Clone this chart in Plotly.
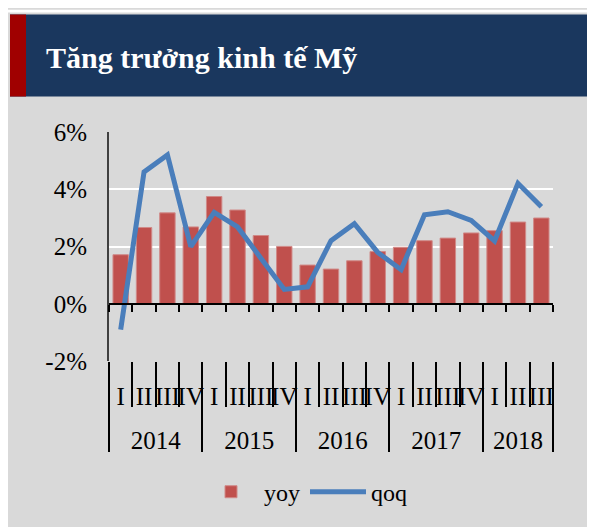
import plotly.graph_objects as go

# ---------------- data ----------------
title_text = "Tăng trưởng kinh tế Mỹ"
quarters = ["I", "II", "III", "IV"] * 4 + ["I", "II", "III"]
years = ["2014"] * 4 + ["2015"] * 4 + ["2016"] * 4 + ["2017"] * 4 + ["2018"] * 3
yoy = [1.72, 2.67, 3.18, 2.69, 3.75, 3.28, 2.39, 2.01, 1.36, 1.22,
       1.51, 1.83, 1.98, 2.21, 2.30, 2.48, 2.56, 2.86, 3.00]
qoq = [-0.89, 4.61, 5.20, 2.00, 3.20, 2.69, 1.60, 0.51, 0.60, 2.21,
       2.80, 1.80, 1.20, 3.11, 3.22, 2.92, 2.20, 4.21, 3.39]
y_tickvals = [-2, 0, 2, 4, 6]
y_ticktext = ["-2%", "0%", "2%", "4%", "6%"]
series_names = ["yoy", "qoq"]

# ---------------- derived positions ----------------
n = len(quarters)
idx = list(range(n))
q_bounds = [i - 0.5 for i in range(n + 1)]
year_labels, year_centers, year_bounds = [], [], [-0.5]
for i, yv in enumerate(years):
    if not year_labels or year_labels[-1] != yv:
        year_labels.append(yv)
        start = i
    if i == n - 1 or years[i + 1] != yv:
        year_centers.append((start + i) / 2)
        year_bounds.append(i + 0.5)

# ---------------- geometry (page has 8px body margin) ----------------
OFF = 8
W, H = 595 - OFF, 527 - OFF
L = 109 - OFF
R = W - (553 - OFF)
T = 124
B = 20
PW, PH = W - L - R, H - T - B


def px_x(sx):  # screen x -> paper
    return (sx - OFF - L) / PW


def px_y(sy):  # screen y -> paper
    return (H - B - (sy - OFF)) / PH


y_dom0 = px_y(364.5)
zero_pos = y_dom0 + (1 - y_dom0) * (0 - (-2)) / 8

BG = "#D9D9D9"
NAVY = "#1A375E"
DARKRED = "#A00000"
BAR = "#C0504D"
LINE = "#4A7EBB"
FONT = "Liberation Serif"
XR = [-0.5, n - 0.5]

fig = go.Figure()
fig.add_trace(go.Bar(x=idx, y=yoy, name=series_names[0],
                     marker=dict(color=BAR, line=dict(color="#D08A88", width=1)),
                     xaxis="x", yaxis="y"))
fig.add_trace(go.Scatter(x=idx, y=qoq, name=series_names[1], mode="lines",
                         line=dict(color=LINE, width=5),
                         xaxis="x", yaxis="y"))
# invisible helper traces so the decorative overlay axes get drawn
for ax in ["x2", "x3", "x4", "x5"]:
    fig.add_trace(go.Scatter(x=idx, y=[None] * n, xaxis=ax, yaxis="y",
                             mode="markers", marker=dict(opacity=0),
                             showlegend=False, hoverinfo="skip"))

axfont = dict(family=FONT, size=25, color="black")

fig.update_layout(
    width=W, height=H,
    margin=dict(l=L, r=R, t=T, b=B, pad=0),
    paper_bgcolor=BG, plot_bgcolor="rgba(0,0,0,0)",
    bargap=0.34,
    showlegend=True,
    legend=dict(orientation="h", x=px_x(198), xanchor="left",
                y=px_y(497), yanchor="middle",
                font=dict(family=FONT, size=24, color="black"),
                bgcolor="rgba(0,0,0,0)", itemwidth=56, traceorder="normal"),
    title=dict(text=title_text, x=(46 - OFF) / W, xanchor="left", xref="container",
               y=1 - (57 - OFF) / H, yanchor="middle", yref="container",
               font=dict(family=FONT, size=30, color="white", weight="bold")),
    yaxis=dict(domain=[y_dom0, 1], range=[-2, 6], autorange=False,
               tickmode="array", tickvals=y_tickvals, ticktext=y_ticktext,
               tickfont=axfont, ticks="", ticklabelstandoff=15,
               showgrid=True, gridcolor="white", gridwidth=2,
               zeroline=False, showline=True, linecolor="#404040", linewidth=2),
    # data axis with quarter labels
    xaxis=dict(range=XR, autorange=False, anchor="y",
               tickmode="array", tickvals=idx, ticktext=quarters, tickangle=0,
               tickfont=axfont, ticks="", ticklabelstandoff=18,
               showgrid=False, zeroline=False, showline=False),
    # zero line with small ticks
    xaxis2=dict(range=XR, autorange=False, overlaying="x", anchor="free",
                position=zero_pos, tickmode="array", tickvals=q_bounds,
                ticks="outside", ticklen=7, tickwidth=2, tickcolor="black",
                showticklabels=False, showgrid=False, zeroline=False,
                showline=True, linecolor="black", linewidth=2),
    # quarter separators
    xaxis3=dict(range=XR, autorange=False, overlaying="x", anchor="y",
                tickmode="array", tickvals=q_bounds,
                ticks="outside", ticklen=45, tickwidth=2, tickcolor="black",
                showticklabels=False, showgrid=False, zeroline=False, showline=False),
    # year labels
    xaxis4=dict(range=XR, autorange=False, overlaying="x", anchor="y",
                tickmode="array", tickvals=year_centers, ticktext=year_labels,
                tickangle=0, tickfont=axfont, ticks="", ticklabelstandoff=62,
                showgrid=False, zeroline=False, showline=False),
    # year separators
    xaxis5=dict(range=XR, autorange=False, overlaying="x", anchor="y",
                tickmode="array", tickvals=year_bounds,
                ticks="outside", ticklen=90, tickwidth=2, tickcolor="black",
                showticklabels=False, showgrid=False, zeroline=False, showline=False),
    shapes=[
        dict(type="rect", xref="paper", yref="paper", layer="below",
             x0=px_x(OFF), x1=px_x(600), y0=px_y(11), y1=px_y(OFF),
             fillcolor="white", line=dict(width=0)),
        dict(type="rect", xref="paper", yref="paper", layer="below",
             x0=px_x(10), x1=px_x(600), y0=px_y(96), y1=px_y(13),
             fillcolor=NAVY, line=dict(width=0)),
        dict(type="rect", xref="paper", yref="paper", layer="below",
             x0=px_x(10), x1=px_x(26), y0=px_y(96), y1=px_y(13),
             fillcolor=DARKRED, line=dict(width=0)),
    ],
)

fig.write_html("out.html")
